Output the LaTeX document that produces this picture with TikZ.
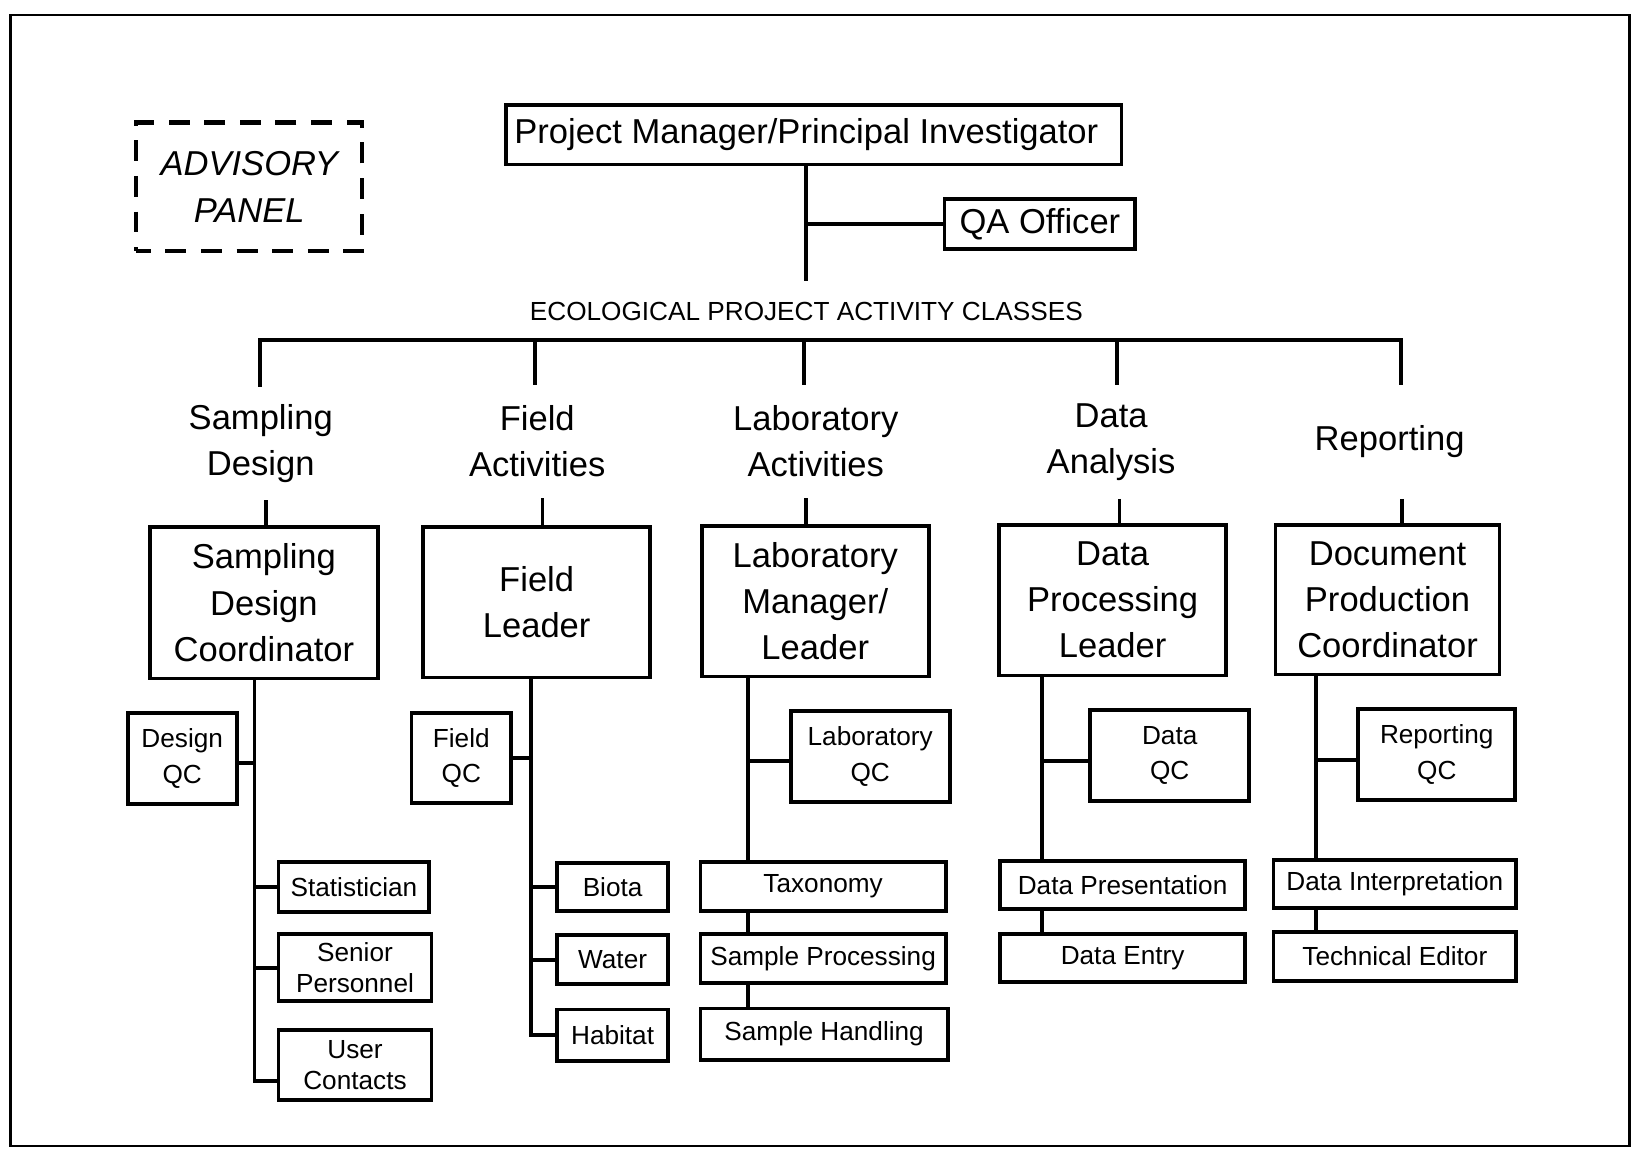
\documentclass[tikz,border=0pt]{standalone}
\usepackage{fontspec}
\setmainfont{Liberation Sans}
\begin{document}
\begin{tikzpicture}[x=0.5pt,y=-0.5pt,line width=1.8pt,line join=miter,
  sz/.style 2 args={minimum width=#1*0.5pt,minimum height=#2*0.5pt},
  box/.style={draw,line width=1.8pt,rectangle,inner sep=0pt,align=center},
  big/.style={font=\fontsize{16.5}{22}\selectfont},
  small/.style={font=\fontsize{12.5}{17}\selectfont},
  smallt/.style={font=\fontsize{12.5}{15}\selectfont},
  cat/.style={big,align=center,inner sep=0pt,minimum height=52.5pt},
  adv/.style={draw,line width=2pt,dash pattern=on 10pt off 7pt,dash phase=3pt,rectangle,inner sep=0pt,align=center,font=\fontsize{16.5}{22}\selectfont\itshape}
]
\useasboundingbox (0,0) rectangle (1568,1097);
% frame
\draw[line width=1pt] (10,14) rectangle (1556,1094);

% top
\node[adv,sz={216}{123}] (adv) at (238,178.5) {ADVISORY\\PANEL};
\node[box,big,sz={588}{57}] (pm) at (777,128.5) {Project Manager/Principal Investigator\hspace{7pt}};
\node[box,big,sz={182}{48}] (qa) at (993,214) {QA Officer};
\coordinate (tm) at (770,268);
\draw (pm.south -| tm) -- (tm);
\draw (qa.west) -- (qa.west -| tm);
\node[small,inner sep=0pt] (title) at (770,297) {ECOLOGICAL PROJECT ACTIVITY CLASSES};

% categories
\node[cat] (c1) at (249,423.5) {Sampling\\Design};
\node[cat] (c2) at (513,421.5) {Field\\Activities};
\node[cat] (c3) at (779,421.5) {Laboratory\\Activities};
\node[cat] (c4) at (1061,422) {Data\\Analysis};
\node[cat] (c5) at (1327,422) {Reporting};

\coordinate (b1) at (248,325);
\coordinate (b2) at (511,325);
\coordinate (b3) at (768,325);
\coordinate (b4) at (1067,325);
\coordinate (b5) at (1338,325);
\draw (b1 |- c1.north) -- (b1) -- (b5) -- (b5 |- c5.north);
\draw (b2) -- (b2 |- c2.north);
\draw (b3) -- (b3 |- c3.north);
\draw (b4) -- (b4 |- c4.north);

% level 2
\node[box,big,sz={218}{145}] (sdc) at (252,575.5) {Sampling\\Design\\Coordinator};
\node[box,big,sz={217}{144}] (fl) at (512.5,575) {Field\\Leader};
\node[box,big,sz={217}{144}] (lm) at (778.5,574) {Laboratory\\Manager/\\Leader};
\node[box,big,sz={217}{144}] (dpl) at (1062.5,573) {Data\\Processing\\Leader};
\node[box,big,sz={214}{143}] (dpc) at (1325,572.5) {Document\\Production\\Coordinator};

\coordinate (k1) at (254,0);
\coordinate (k2) at (518,0);
\coordinate (k3) at (770,0);
\coordinate (k4) at (1069,0);
\coordinate (k5) at (1339,0);
\draw (c1.south -| k1) -- (sdc.north -| k1);
\draw (c2.south -| k2) -- (fl.north -| k2);
\draw (c3.south -| k3) -- (lm.north -| k3);
\draw (c4.south -| k4) -- (dpl.north -| k4);
\draw (c5.south -| k5) -- (dpc.north -| k5);

% trunks
\coordinate (t1) at (243,0);
\coordinate (t2) at (507,0);
\coordinate (t3) at (714,0);
\coordinate (t4) at (995,0);
\coordinate (t5) at (1257,0);

% column 1
\node[box,small,sz={104}{87}] (dqc) at (174,724.5) {Design\\QC};
\node[box,small,sz={144}{48}] (stat) at (338,847) {Statistician};
\node[box,smallt,sz={146}{64}] (sen) at (339,924) {Senior\\Personnel};
\node[box,smallt,sz={146}{67}] (user) at (339,1017) {User\\Contacts};
\draw (sdc.south -| t1) |- ([yshift=-7.5pt]user.west);
\draw ([yshift=-2pt]dqc.east) -- ([yshift=-2pt]dqc.east -| t1);
\draw (stat.west) -- (stat.west -| t1);
\draw (sen.west) -- (sen.west -| t1);

% column 2
\node[box,small,sz={95}{86}] (fqc) at (440.5,724) {Field\\QC};
\node[box,small,sz={106}{46}] (biota) at (585,847) {Biota};
\node[box,small,sz={106}{47}] (water) at (585,916.5) {Water};
\node[box,small,sz={106}{49}] (hab) at (585,988.5) {Habitat};
\draw (fl.south -| t2) |- (hab.west);
\draw (fqc.east) -- (fqc.east -| t2);
\draw (biota.west) -- (biota.west -| t2);
\draw (water.west) -- (water.west -| t2);

% column 3
\node[box,small,sz={152}{87}] (lqc) at (831,722.5) {Laboratory\\QC};
\node[box,small,sz={234}{47}] (tax) at (786,846.5) {Taxonomy};
\node[box,small,sz={234}{47}] (sp) at (786,915.5) {Sample Processing};
\node[box,small,sz={236}{49}] (sh) at (787,987.5) {Sample Handling};
\draw (lm.south -| t3) -- (tax.north -| t3);
\draw ([yshift=-2pt]lqc.west) -- ([yshift=-2pt]lqc.west -| t3);
\draw (tax.south -| t3) -- (sp.north -| t3);
\draw (sp.south -| t3) -- (sh.north -| t3);

% column 4
\node[box,small,sz={152}{87}] (dqc2) at (1117,721.5) {Data\\QC};
\node[box,small,sz={234}{46}] (dpres) at (1072,845) {Data Presentation};
\node[box,small,sz={234}{46}] (dent) at (1072,915) {Data Entry};
\draw (dpl.south -| t4) -- (dpres.north -| t4);
\draw ([yshift=-2.5pt]dqc2.west) -- ([yshift=-2.5pt]dqc2.west -| t4);
\draw (dpres.south -| t4) -- (dent.north -| t4);

% column 5
\node[box,small,sz={150}{87}] (rqc) at (1372,720.5) {Reporting\\QC};
\node[box,small,sz={232}{46}] (dint) at (1332,844) {Data Interpretation};
\node[box,small,sz={232}{47}] (te) at (1332,913.5) {Technical Editor};
\draw (dpc.south -| t5) -- (dint.north -| t5);
\draw ([yshift=-2.5pt]rqc.west) -- ([yshift=-2.5pt]rqc.west -| t5);
\draw (dint.south -| t5) -- (te.north -| t5);
\end{tikzpicture}
\end{document}
